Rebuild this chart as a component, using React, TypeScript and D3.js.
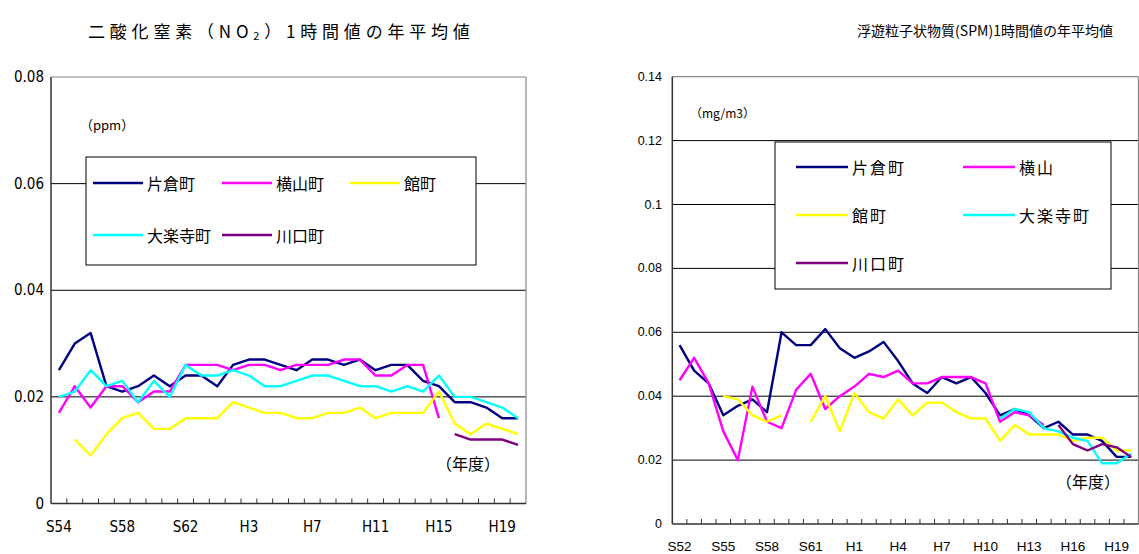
import React from "react";
import * as d3 from "d3";

// ---------- Data ----------
const leftCategories = [
  "S54","S55","S56","S57","S58","S59","S60","S61","S62","S63",
  "H1","H2","H3","H4","H5","H6","H7","H8","H9","H10",
  "H11","H12","H13","H14","H15","H16","H17","H18","H19","H20",
];
const leftTickLabels = ["S54","S58","S62","H3","H7","H11","H15","H19"];
const leftYTicks = [0, 0.02, 0.04, 0.06, 0.08];
const leftYTickLabels = ["0", "0.02", "0.04", "0.06", "0.08"];

const no2Katakura = [0.025,0.030,0.032,0.022,0.021,0.022,0.024,0.022,0.024,0.024,0.022,0.026,0.027,0.027,0.026,0.025,0.027,0.027,0.026,0.027,0.025,0.026,0.026,0.023,0.022,0.019,0.019,0.018,0.016,0.016];
const no2Yokoyama = [0.017,0.022,0.018,0.022,0.022,0.019,0.021,0.021,0.026,0.026,0.026,0.025,0.026,0.026,0.025,0.026,0.026,0.026,0.027,0.027,0.024,0.024,0.026,0.026,0.016,null,null,null,null,null];
const no2Tate = [null,0.012,0.009,0.013,0.016,0.017,0.014,0.014,0.016,0.016,0.016,0.019,0.018,0.017,0.017,0.016,0.016,0.017,0.017,0.018,0.016,0.017,0.017,0.017,0.021,0.015,0.013,0.015,0.014,0.013];
const no2Dairakuji = [0.020,0.021,0.025,0.022,0.023,0.019,0.023,0.020,0.026,0.024,0.024,0.025,0.024,0.022,0.022,0.023,0.024,0.024,0.023,0.022,0.022,0.021,0.022,0.021,0.024,0.020,0.020,0.019,0.018,0.016];
const no2Kawaguchi = [null,null,null,null,null,null,null,null,null,null,null,null,null,null,null,null,null,null,null,null,null,null,null,null,null,0.013,0.012,0.012,0.012,0.011];

const rightCategories = [
  "S52","S53","S54","S55","S56","S57","S58","S59","S60","S61","S62","S63",
  "H1","H2","H3","H4","H5","H6","H7","H8","H9","H10",
  "H11","H12","H13","H14","H15","H16","H17","H18","H19","H20",
];
const rightTickLabels = ["S52","S55","S58","S61","H1","H4","H7","H10","H13","H16","H19"];
const rightYTicks = [0, 0.02, 0.04, 0.06, 0.08, 0.1, 0.12, 0.14];
const rightYTickLabels = ["0", "0.02", "0.04", "0.06", "0.08", "0.1", "0.12", "0.14"];

const spmKatakura = [0.056,0.048,0.044,0.034,0.037,0.039,0.035,0.060,0.056,0.056,0.061,0.055,0.052,0.054,0.057,0.051,0.044,0.041,0.046,0.044,0.046,0.041,0.034,0.036,0.034,0.030,0.032,0.028,0.028,0.026,0.021,0.021];
const spmYokoyama = [0.045,0.052,0.044,0.029,0.020,0.043,0.032,0.030,0.042,0.047,0.036,0.040,0.043,0.047,0.046,0.048,0.044,0.044,0.046,0.046,0.046,0.044,0.032,0.035,0.034,0.031,null,null,null,null,null,null];
const spmTate = [null,null,null,0.040,0.039,0.034,0.032,0.034,null,0.032,0.040,0.029,0.041,0.035,0.033,0.039,0.034,0.038,0.038,0.035,0.033,0.033,0.026,0.031,0.028,0.028,0.028,0.026,0.027,0.027,0.023,0.023];
const spmDairakuji = [null,null,null,null,null,null,null,null,null,null,null,null,null,null,null,null,null,null,null,null,null,null,0.033,0.036,0.035,0.030,0.029,0.027,0.026,0.019,0.019,0.022];
const spmKawaguchi = [null,null,null,null,null,null,null,null,null,null,null,null,null,null,null,null,null,null,null,null,null,null,null,null,null,null,0.031,0.025,0.023,0.025,0.024,0.021];

const seriesColors = ["#000080", "#FF00FF", "#FFFF00", "#00FFFF", "#800080"];
const leftNames = ["片倉町", "横山町", "館町", "大楽寺町", "川口町"];
const rightNames = ["片倉町", "横山", "館町", "大楽寺町", "川口町"];

const CJK = "'Noto Sans CJK JP', 'Noto Sans', sans-serif";
const NUM = "'Liberation Sans', Arial, sans-serif";
const NARROW = "'Liberation Sans Narrow', 'DejaVu Sans Condensed', 'Liberation Sans', sans-serif";

type Series = { name: string; color: string; values: (number | null)[] };

type ChartProps = {
  cats: string[];
  tickLabels: string[];
  yTicks: number[];
  yTickLabels: string[];
  series: Series[];
  x0: number; x1: number; yBottom: number; yTop: number; yMax: number;
  labelFont: string;
  xLabelY: number; xLabelSize: number; yLabelX: number; yLabelSize: number;
  legend: { x: number; y: number; w: number; h: number; cols: number[]; rows: number[]; fontSize: number; perRow: number; lineLen: number; letterSpacing: number };
  unit: { text: string; x: number; y: number; size: number };
  nendo: { x: number; y: number; size: number };
};

function Chart(p: ChartProps) {
  const x = d3.scaleBand<string>().domain(p.cats).range([p.x0, p.x1]).padding(0);
  const y = d3.scaleLinear().domain([0, p.yMax]).range([p.yBottom, p.yTop]);
  const bw = x.bandwidth();
  const line = d3
    .line<number | null>()
    .defined((d) => d !== null)
    .x((_, i) => (x(p.cats[i]) as number) + bw / 2)
    .y((d) => y(d as number));

  return (
    <g>
      {p.yTicks.filter((t) => t > 0 && t < p.yMax).map((t) => (
        <line key={"g" + t} x1={p.x0} x2={p.x1} y1={y(t)} y2={y(t)} stroke="#000" strokeWidth={1} />
      ))}
      <line x1={p.x0} x2={p.x1} y1={y(p.yMax)} y2={y(p.yMax)} stroke="#888" strokeWidth={1.2} />
      <line x1={p.x1} x2={p.x1} y1={y(p.yMax)} y2={y(0)} stroke="#888" strokeWidth={1.2} />
      <line x1={p.x0} x2={p.x0} y1={y(p.yMax)} y2={y(0)} stroke="#333" strokeWidth={1.5} />
      <line x1={p.x0} x2={p.x1} y1={y(0)} y2={y(0)} stroke="#333" strokeWidth={1.5} />
      {p.cats.map((c, i) =>
        i === 0 ? null : (
          <line key={"t" + c} x1={x(c) as number} x2={x(c) as number} y1={y(0)} y2={y(0) - 5} stroke="#333" strokeWidth={1} />
        )
      )}
      {p.yTicks.map((t, i) => (
        <text key={"yl" + t} x={p.yLabelX} y={y(t)} textAnchor="end" dominantBaseline="central" fontFamily={p.labelFont} fontSize={p.yLabelSize} fill="#000">
          {p.yTickLabels[i]}
        </text>
      ))}
      {p.tickLabels.map((l) => (
        <text key={"xl" + l} x={(x(l) as number) + bw / 2} y={p.xLabelY} textAnchor="middle" dominantBaseline="central" fontFamily={p.labelFont} fontSize={p.xLabelSize} fill="#000">
          {l}
        </text>
      ))}
      {p.series.map((s) => (
        <path key={s.name} d={line(s.values) || ""} fill="none" stroke={s.color} strokeWidth={2.4} strokeLinejoin="round" />
      ))}
      <text x={p.unit.x} y={p.unit.y} dominantBaseline="central" fontFamily={CJK} fontSize={p.unit.size} fill="#000">
        {p.unit.text}
      </text>
      <text x={p.nendo.x} y={p.nendo.y} dominantBaseline="central" fontFamily={CJK} fontSize={p.nendo.size} fill="#000">
        （年度）
      </text>
      <rect x={p.legend.x} y={p.legend.y} width={p.legend.w} height={p.legend.h} fill="#fff" stroke="#000" strokeWidth={1} />
      {p.series.map((s, i) => {
        const cx = p.legend.cols[i % p.legend.perRow];
        const cy = p.legend.rows[Math.floor(i / p.legend.perRow)];
        return (
          <g key={"lg" + s.name}>
            <line x1={cx} x2={cx + p.legend.lineLen} y1={cy} y2={cy} stroke={s.color} strokeWidth={2.4} />
            <text x={cx + p.legend.lineLen + 4} y={cy} dominantBaseline="central" fontFamily={CJK} fontSize={p.legend.fontSize} letterSpacing={p.legend.letterSpacing} fill="#000">
              {s.name}
            </text>
          </g>
        );
      })}
    </g>
  );
}

export default function App() {
  const leftSeries: Series[] = [no2Katakura, no2Yokoyama, no2Tate, no2Dairakuji, no2Kawaguchi].map((v, i) => ({ name: leftNames[i], color: seriesColors[i], values: v }));
  const rightSeries: Series[] = [spmKatakura, spmYokoyama, spmTate, spmDairakuji, spmKawaguchi].map((v, i) => ({ name: rightNames[i], color: seriesColors[i], values: v }));
  return (
    <svg width={1139} height={554} style={{ position: "absolute", left: 0, top: 0, background: "#fff" }}>
      <rect width={1139} height={554} fill="#fff" />
      <text x={88} y={30} dominantBaseline="central" fontFamily={CJK} fontSize={17} letterSpacing={4.8} fill="#000">
        二酸化窒素（NO<tspan fontSize={11} dy={5}>2</tspan><tspan dy={-5}>）1時間値の年平均値</tspan>
      </text>
      <text x={985} y={30} textAnchor="middle" dominantBaseline="central" fontFamily={CJK} fontSize={14} fill="#000">
        浮遊粒子状物質(SPM)1時間値の年平均値
      </text>
      <Chart
        cats={leftCategories}
        tickLabels={leftTickLabels}
        yTicks={leftYTicks}
        yTickLabels={leftYTickLabels}
        series={leftSeries}
        x0={51} x1={526} yBottom={503.5} yTop={77} yMax={0.08}
        labelFont={NARROW}
        xLabelY={527} xLabelSize={15} yLabelX={44} yLabelSize={15}
        legend={{ x: 86, y: 157, w: 390, h: 108, cols: [93, 222, 350], rows: [183, 235], fontSize: 16, perRow: 3, lineLen: 50, letterSpacing: 0 }}
        unit={{ text: "（ppm）", x: 80, y: 124, size: 13 }}
        nendo={{ x: 436, y: 463, size: 16 }}
      />
      <Chart
        cats={rightCategories}
        tickLabels={rightTickLabels}
        yTicks={rightYTicks}
        yTickLabels={rightYTickLabels}
        series={rightSeries}
        x0={672.3} x1={1138.5} yBottom={524} yTop={76.7} yMax={0.14}
        labelFont={NUM}
        xLabelY={546} xLabelSize={13.5} yLabelX={662} yLabelSize={12.5}
        legend={{ x: 775, y: 142, w: 336, h: 147, cols: [796, 963], rows: [167, 215, 263], fontSize: 16, perRow: 2, lineLen: 52, letterSpacing: 2 }}
        unit={{ text: "（mg/m3）", x: 690, y: 112, size: 12 }}
        nendo={{ x: 1056, y: 481, size: 16 }}
      />
    </svg>
  );
}
